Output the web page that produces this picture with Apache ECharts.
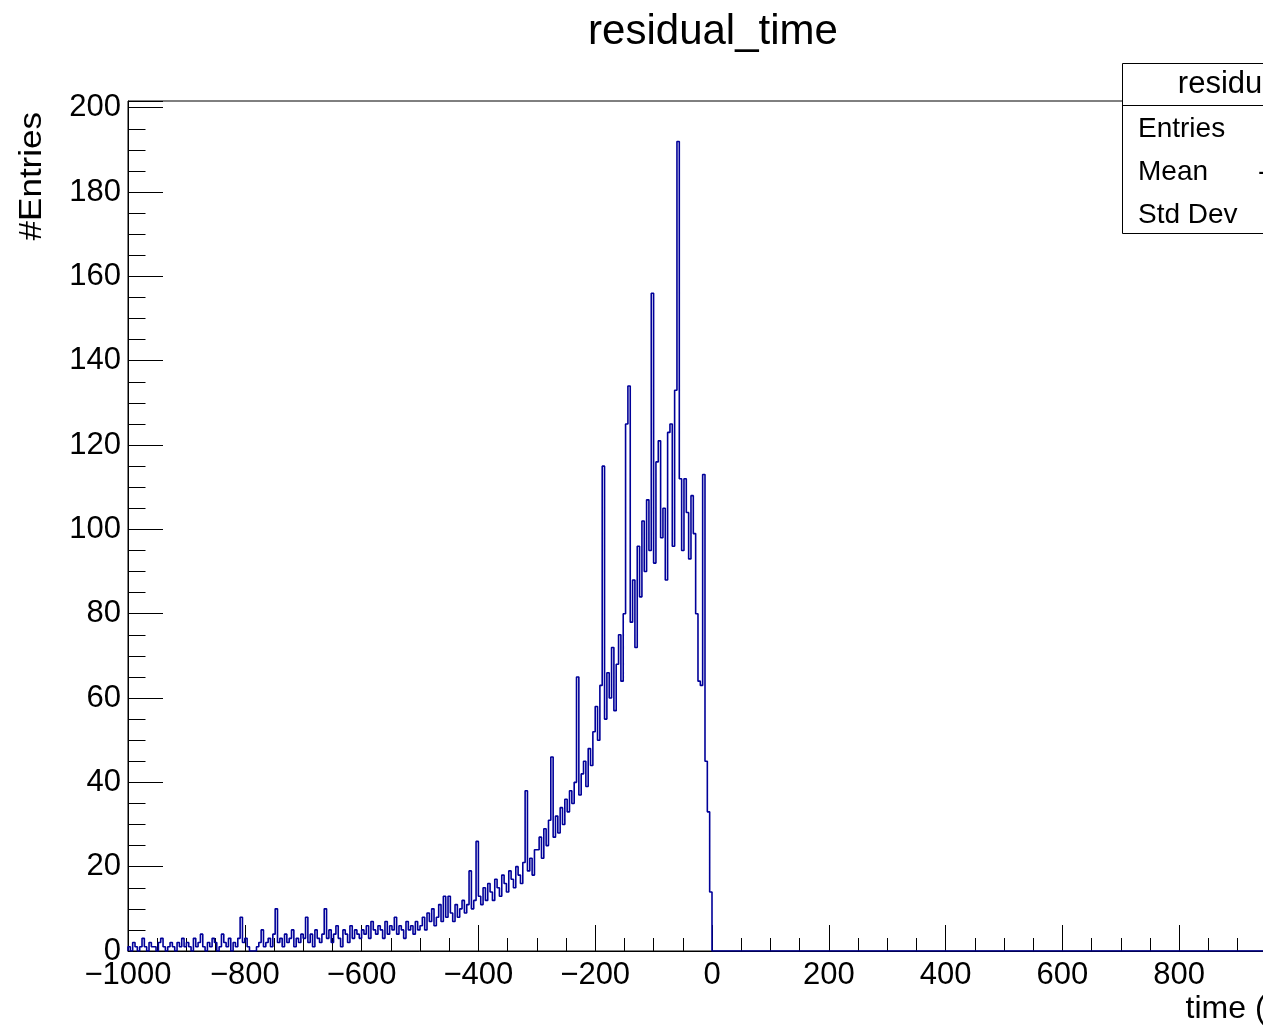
<!DOCTYPE html>
<html><head><meta charset="utf-8">
<script src="https://cdn.jsdelivr.net/npm/echarts@6/dist/echarts.min.js"></script>
<style>html,body{margin:0;padding:0;overflow:hidden;background:#fff}#c{width:1426px;height:1025px}</style>
</head><body><div id="c"></div>
<script>
// Histogram "residual_time": bin width 4 ns, from -1000 to 0 (all bins above 0 are empty)
const binStart = -1000;
const binWidth = 4;
const xMin = -1000;
const xMax = 1000;
const counts_m1000 = [1,0,2,1,0,1,3,1,0,2,1,1,0,2,3,1,0,1,2,1,0,2,1,3,1];
const counts_m900  = [2,1,0,3,1,2,4,1,0,2,1,3,2,0,1,4,2,1,3,0,2,1,3,8,2];
const counts_m800  = [3,1,0,0,0,1,2,5,1,2,3,1,4,10,2,3,1,4,2,3,5,1,3,2,4];
const counts_m700  = [3,8,2,4,1,5,3,2,4,10,3,5,2,4,6,3,1,5,4,2,6,3,5,4,3];
const counts_m600  = [5,4,6,3,7,5,4,6,5,3,7,4,6,5,8,4,6,5,3,7,5,6,4,7,5];
const counts_m500  = [6,8,5,9,7,10,6,8,11,7,13,8,13,9,7,11,8,10,12,9,11,19,10,12,26];
const counts_m400  = [13,11,15,12,16,14,12,17,15,13,18,16,14,19,17,15,20,18,16,21,38,19,22,18,24];
const counts_m300  = [24,27,22,29,25,31,46,27,32,28,34,30,36,33,38,35,40,65,37,42,45,39,48,44,52];
const counts_m200  = [58,50,63,115,55,66,60,72,57,68,75,64,80,125,134,78,88,72,96,84,102,90,107,95,156];
const counts_m100  = [92,116,121,98,105,88,123,125,96,133,192,112,95,112,104,93,108,99,80,64,63,113,45,33,14];
const counts = [].concat(counts_m1000, counts_m900, counts_m800, counts_m700, counts_m600,
                         counts_m500, counts_m400, counts_m300, counts_m200, counts_m100);

const statLabels = ['Entries', 'Mean', 'Std Dev'];
const statValues = ['31245', '-118.6', '147.3'];
const histName = 'residual_time';
const xTitle = 'time (ns)';
const yTitle = '#Entries';

const yMax = Math.max.apply(null, counts) * 1.05;

const histData = [[binStart, 0]];
counts.forEach((c, i) => histData.push([binStart + i * binWidth, c]));
histData.push([binStart + counts.length * binWidth, 0]);
histData.push([xMax, 0]);

const FONT = 'Liberation Sans';
const chart = echarts.init(document.getElementById('c'), null, {renderer: 'canvas'});
const tickStyle = {color: '#000', width: 1};

chart.setOption({
  animation: false,
  backgroundColor: '#fff',
  title: {
    text: histName, left: 'center', top: 6,
    textStyle: {fontFamily: FONT, fontSize: 42, fontWeight: 'normal', color: '#000'}
  },
  grid: {
    left: 128, top: 101, width: 1168, height: 850,
    show: true, borderColor: '#000', borderWidth: 1, backgroundColor: 'transparent',
    containLabel: false, outerBoundsMode: 'none'
  },
  xAxis: {
    type: 'value', min: xMin, max: xMax, interval: 200,
    axisLine: {show: true, onZero: false, lineStyle: tickStyle},
    axisTick: {show: true, inside: true, length: 26, lineStyle: tickStyle},
    minorTick: {show: true, splitNumber: 4, length: 13, lineStyle: tickStyle},
    splitLine: {show: false},
    axisLabel: {
      fontFamily: FONT, fontSize: 31, color: '#000', margin: 9,
      formatter: v => String(v).replace('-', '\u2212')
    }
  },
  yAxis: [
    {
      type: 'value', min: 0, max: yMax, interval: 5, position: 'left',
      axisLine: {show: true, onZero: false, lineStyle: tickStyle},
      axisTick: {show: true, inside: true, length: 17.5, lineStyle: tickStyle},
      axisLabel: {show: false}, splitLine: {show: false}
    },
    {
      type: 'value', min: 0, max: yMax, interval: 20, position: 'left',
      axisLine: {show: false, onZero: false},
      axisTick: {show: true, inside: true, length: 35, lineStyle: tickStyle},
      splitLine: {show: false},
      axisLabel: {
        fontFamily: FONT, fontSize: 31, color: '#000', margin: 7,
        formatter: v => (Math.abs(v % 20) < 1e-9 ? String(v) : '')
      }
    }
  ],
  series: [{
    type: 'line', step: 'end', data: histData, xAxisIndex: 0, yAxisIndex: 0,
    symbol: 'none', showSymbol: false, clip: true,
    lineStyle: {color: '#000099', width: 1.6}, z: 3
  }],
  graphic: {
    elements: [
      {type: 'text', x: 32, y: 112, rotation: Math.PI / 2, scaleY: 0.92, z: 50,
       style: {text: yTitle, fontFamily: FONT, fontSize: 35, fill: '#000',
               align: 'right', verticalAlign: 'middle', textAlign: 'right', textVerticalAlign: 'middle'}},
      {type: 'text', x: 1310, y: 1009, z: 50,
       style: {text: xTitle, fontFamily: FONT, fontSize: 32, fill: '#000',
               align: 'right', verticalAlign: 'middle', textAlign: 'right', textVerticalAlign: 'middle'}},
      {type: 'rect', z: 60, shape: {x: 1122.5, y: 63.5, width: 290, height: 170},
       style: {fill: '#fff', stroke: '#000', lineWidth: 1}},
      {type: 'line', z: 61, shape: {x1: 1122.5, y1: 105.5, x2: 1412.5, y2: 105.5},
       style: {stroke: '#000', lineWidth: 1}},
      {type: 'text', x: 1270, y: 84, z: 62,
       style: {text: histName, fontFamily: FONT, fontSize: 31, fill: '#000',
               align: 'center', verticalAlign: 'middle', textAlign: 'center', textVerticalAlign: 'middle'}},
      {type: 'text', x: 1138, y: 129, z: 62,
       style: {text: statLabels[0], fontFamily: FONT, fontSize: 28, fill: '#000',
               align: 'left', verticalAlign: 'middle', textAlign: 'left', textVerticalAlign: 'middle'}},
      {type: 'text', x: 1138, y: 172, z: 62,
       style: {text: statLabels[1], fontFamily: FONT, fontSize: 28, fill: '#000',
               align: 'left', verticalAlign: 'middle', textAlign: 'left', textVerticalAlign: 'middle'}},
      {type: 'text', x: 1138, y: 215, z: 62,
       style: {text: statLabels[2], fontFamily: FONT, fontSize: 28, fill: '#000',
               align: 'left', verticalAlign: 'middle', textAlign: 'left', textVerticalAlign: 'middle'}},
      {type: 'text', x: 1400, y: 129, z: 62,
       style: {text: statValues[0], fontFamily: FONT, fontSize: 28, fill: '#000',
               align: 'right', verticalAlign: 'middle', textAlign: 'right', textVerticalAlign: 'middle'}},
      {type: 'text', x: 1258, y: 172, z: 62,
       style: {text: statValues[1], fontFamily: FONT, fontSize: 28, fill: '#000',
               align: 'left', verticalAlign: 'middle', textAlign: 'left', textVerticalAlign: 'middle'}},
      {type: 'text', x: 1400, y: 215, z: 62,
       style: {text: statValues[2], fontFamily: FONT, fontSize: 28, fill: '#000',
               align: 'right', verticalAlign: 'middle', textAlign: 'right', textVerticalAlign: 'middle'}}
    ]
  }
});
</script>
</body></html>
